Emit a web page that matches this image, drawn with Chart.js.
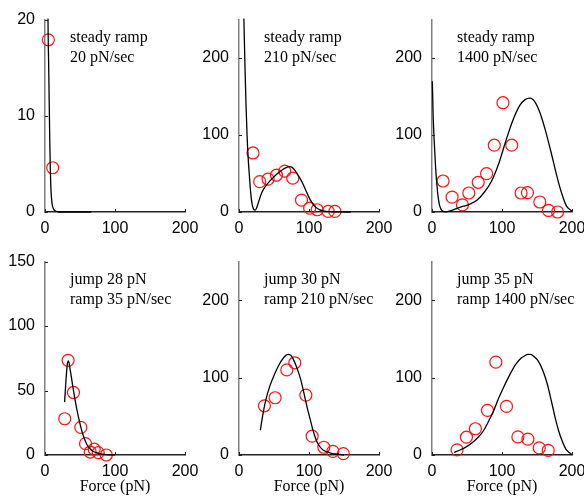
<!DOCTYPE html>
<html>
<head>
<meta charset="utf-8">
<script src="https://cdn.jsdelivr.net/npm/chart.js@4.4.0/dist/chart.umd.min.js"></script>
<style>
  body { margin: 0; background: #fff; width: 584px; height: 500px; overflow: hidden; position: relative; }
  canvas { position: absolute; }
</style>
</head>
<body>
<canvas id="c1" width="206" height="236" style="left:0px;top:0px"></canvas>
<canvas id="c2" width="206" height="236" style="left:194px;top:0px"></canvas>
<canvas id="c3" width="206" height="236" style="left:387px;top:0px"></canvas>
<canvas id="c4" width="206" height="258" style="left:0px;top:242px"></canvas>
<canvas id="c5" width="206" height="258" style="left:194px;top:242px"></canvas>
<canvas id="c6" width="206" height="258" style="left:387px;top:242px"></canvas>
<script>
const dotsX1 = [4.8, 11];
const dotsY1 = [17.9, 4.6];
const curveX1 = [3, 4.3, 5.2, 6, 6.8, 7.6, 8.6, 10, 12, 15, 20, 66];
const curveY1 = [40, 20, 15.5, 11.5, 7.5, 4.5, 2.2, 0.9, 0.35, 0.1, 0, 0];

const dotsX2 = [20, 29.6, 41.5, 53.5, 65.4, 76.8, 89.3, 101, 111.7, 127.4, 137];
const dotsY2 = [76.7, 39.4, 42.8, 47.8, 53.2, 44, 15.5, 5, 2.9, 0.8, 0.8];
const curveX2 = [5.5, 7, 8.5, 10, 11.5, 13, 15, 17, 19, 21, 23, 25, 28, 32, 36, 40, 48, 55, 62, 68, 72, 76, 80, 85, 90, 95, 100, 105, 110, 115, 120, 130, 140, 160];
const curveY2 = [320, 250, 190, 140, 100, 72, 45, 22, 9, 3.5, 2.5, 5, 13, 24, 31, 36, 44, 50, 55, 58, 59, 58, 54, 47, 39, 29, 19, 11, 6, 3, 1.5, 0.4, 0.1, 0];

const dotsX3 = [15.8, 28.7, 43.5, 52.6, 66, 78, 89, 101.4, 113.9, 127.3, 136.4, 154, 166.5, 179.4];
const dotsY3 = [40.3, 19.3, 9.2, 24.7, 38.6, 49.9, 86.8, 142, 86.8, 24.7, 25.2, 13, 2, 0];
const curveX3 = [0.5, 1.5, 3, 5, 7, 9, 11, 14, 18, 22, 28, 35, 45, 55, 65, 75, 85, 95, 105, 115, 125, 133, 140, 147, 155, 162, 170, 178, 185, 192, 200];
const curveY3 = [170, 130, 95, 60, 35, 18, 8, 2, 0.3, 0.5, 2, 4.5, 7.5, 10.5, 16, 26, 40, 62, 91, 118, 138, 146, 148, 143, 127, 106, 78, 48, 25, 8, 1];

const dotsX4 = [28.2, 33, 40.7, 51.2, 57.9, 64.6, 70.3, 76, 87.6];
const dotsY4 = [28.1, 73.4, 48.5, 21.4, 8.8, 2.3, 4.5, 1.8, 0];
const curveX4 = [28, 30, 32, 33.5, 36, 41, 46, 51, 55, 60, 65, 70, 80, 90, 100];
const curveY4 = [41, 58, 71, 73, 66, 49, 34, 22, 14.5, 8, 4.5, 2.5, 0.8, 0.2, 0];

const dotsX5 = [36.3, 51.6, 68.3, 79.7, 95.5, 104.5, 121.2, 134.1, 149];
const dotsY5 = [63.6, 74, 110, 119.2, 77.4, 24.3, 10, 4.6, 1.7];
const curveX5 = [30.5, 34, 38, 44, 52, 58, 64, 70, 74, 78, 83, 88, 93, 97.5, 102, 106, 110, 114, 120, 126, 132, 138, 150];
const curveY5 = [32, 52, 70, 89, 107, 118, 126, 130, 129, 123, 112, 98, 79, 61, 45, 31, 20, 12.6, 6.5, 4, 2.2, 1.3, 0];

const dotsX6 = [35.8, 49.2, 62, 79.2, 91.2, 106.4, 122.7, 137, 153.2, 166];
const dotsY6 = [6.7, 23, 33.9, 57.7, 120, 62.8, 23.4, 20.5, 9.2, 5.9];
const curveX6 = [31.5, 40, 47, 56, 66, 74, 81, 88, 95, 102, 109, 116, 122, 127, 132, 137, 141, 146, 152, 158, 164, 170, 176, 181, 186, 191, 195, 200];
const curveY6 = [3.3, 6.5, 9.6, 15, 23, 32, 44, 57, 73, 87, 100, 112, 120, 125, 128, 130, 130, 127, 121, 110, 94, 72, 48, 31, 18, 8, 4, 0.5];

const labels1 = ['steady ramp', '20 pN/sec'];
const labels2 = ['steady ramp', '210 pN/sec'];
const labels3 = ['steady ramp', '1400 pN/sec'];
const labels4 = ['jump 28 pN', 'ramp 35 pN/sec'];
const labels5 = ['jump 30 pN', 'ramp 210 pN/sec'];
const labels6 = ['jump 35 pN', 'ramp 1400 pN/sec'];

const xTicks = [0, 100, 200];
const yTicksSmall = [0, 10, 20];
const yTicksMid = [0, 50, 100, 150];
const yTicksBig = [0, 100, 200];

const panels = [
    { id: 'c1', dx: dotsX1, dy: dotsY1, cx: curveX1, cy: curveY1, text: labels1, yMax: 20, yTicks: yTicksSmall, bottom: false },
    { id: 'c2', dx: dotsX2, dy: dotsY2, cx: curveX2, cy: curveY2, text: labels2, yMax: 250, yTicks: yTicksBig, bottom: false },
    { id: 'c3', dx: dotsX3, dy: dotsY3, cx: curveX3, cy: curveY3, text: labels3, yMax: 250, yTicks: yTicksBig, bottom: false },
    { id: 'c4', dx: dotsX4, dy: dotsY4, cx: curveX4, cy: curveY4, text: labels4, yMax: 150, yTicks: yTicksMid, bottom: true },
    { id: 'c5', dx: dotsX5, dy: dotsY5, cx: curveX5, cy: curveY5, text: labels5, yMax: 250, yTicks: yTicksBig, bottom: true },
    { id: 'c6', dx: dotsX6, dy: dotsY6, cx: curveX6, cy: curveY6, text: labels6, yMax: 250, yTicks: yTicksBig, bottom: true }
];

const tickFont = { family: 'Liberation Sans', size: 16 };
const serif = 'Liberation Serif';

// small inward tick marks + the two-line note in the upper left
const extras = {
    id: 'extras',
    afterDraw(chart, args, opts) {
        const ctx = chart.ctx;
        const area = chart.chartArea;
        const xs = chart.scales.x, ys = chart.scales.y;
        ctx.save();
        ctx.strokeStyle = '#222';
        ctx.lineWidth = 1;
        ys.ticks.forEach(t => {
            const y = Math.round(ys.getPixelForValue(t.value)) + 0.5;
            ctx.beginPath();
            ctx.moveTo(area.left, y);
            ctx.lineTo(area.left + 3, y);
            ctx.stroke();
        });
        xs.ticks.forEach(t => {
            const x = Math.round(xs.getPixelForValue(t.value)) + 0.5;
            ctx.beginPath();
            ctx.moveTo(x, area.bottom);
            ctx.lineTo(x, area.bottom - 3);
            ctx.stroke();
        });
        ctx.fillStyle = '#000';
        ctx.font = '16px "' + serif + '"';
        ctx.textBaseline = 'middle';
        ctx.textAlign = 'left';
        ctx.fillText(opts.lines[0], area.left + 25, area.top + 18);
        ctx.fillText(opts.lines[1], area.left + 25, area.top + 38);
        ctx.restore();
    }
};

function makePanel(p) {
    const curve = p.cx.map((x, i) => ({ x: x, y: p.cy[i] }));
    const dots = p.dx.map((x, i) => ({ x: x, y: p.dy[i] }));
    const ctx = document.getElementById(p.id).getContext('2d');
    return new Chart(ctx, {
        type: 'scatter',
        data: {
            datasets: [{
                data: curve,
                showLine: true,
                borderColor: '#000',
                borderWidth: 1.3,
                pointRadius: 0,
                cubicInterpolationMode: 'monotone',
                clip: { left: false, top: 1, right: false, bottom: false }
            }, {
                data: dots,
                pointRadius: 6,
                pointBorderWidth: 1.2,
                pointBorderColor: '#ff1010',
                pointBackgroundColor: 'rgba(0,0,0,0)',
                clip: false
            }]
        },
        options: {
            responsive: false,
            animation: false,
            devicePixelRatio: 1,
            layout: { padding: { top: 14, right: 21, left: 0, bottom: 0 } },
            plugins: {
                legend: { display: false },
                tooltip: { enabled: false },
                extras: { lines: p.text }
            },
            scales: {
                x: {
                    type: 'linear',
                    min: 0,
                    max: 200,
                    afterBuildTicks: s => { s.ticks = xTicks.map(v => ({ value: v })); },
                    afterFit: s => { s.height = p.bottom ? 45 : 24; },
                    ticks: { font: tickFont, color: '#000', padding: 7, maxRotation: 0 },
                    grid: { display: false, drawTicks: false },
                    border: { color: '#222', width: 1.5 },
                    title: {
                        display: p.bottom,
                        text: 'Force (pN)',
                        color: '#000',
                        font: { family: serif, size: 16 },
                        padding: { top: 0, bottom: 4 }
                    }
                },
                y: {
                    type: 'linear',
                    min: 0,
                    max: p.yMax,
                    afterBuildTicks: s => { s.ticks = p.yTicks.map(v => ({ value: v })); },
                    afterFit: s => { s.width = 45; },
                    ticks: { font: tickFont, color: '#000', padding: 10 },
                    grid: { display: false, drawTicks: false },
                    border: { color: '#808080', width: 1.5 }
                }
            }
        },
        plugins: [extras]
    });
}

panels.forEach(makePanel);
</script>
</body>
</html>
